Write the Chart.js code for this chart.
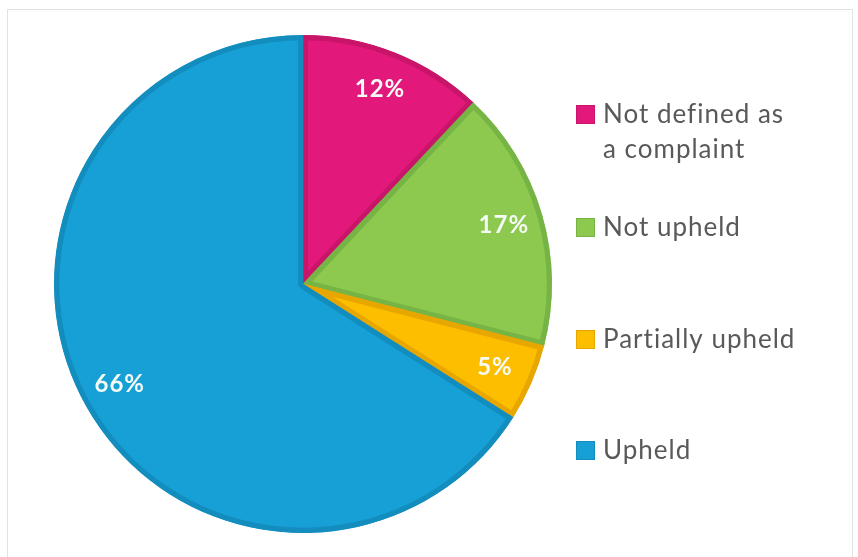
<!DOCTYPE html>
<html>
<head>
<meta charset="utf-8">
<script src="https://cdn.jsdelivr.net/npm/chart.js@4.4.1/dist/chart.umd.min.js"></script>
<style>
html,body{margin:0;padding:0;background:#fff;}
#wrap{position:relative;width:858px;height:557px;}
</style>
</head>
<body>
<div id="wrap"><canvas id="c" width="858" height="557"></canvas></div>
<script>
const categories = [['Not defined as', 'a complaint'], 'Not upheld', 'Partially upheld', 'Upheld'];
const shares = [12, 17, 5, 66];
const shareLabels = ['12%', '17%', '5%', '66%'];
const fillColors = ['#E2197A', '#8DC94E', '#FDBE00', '#16A0D5'];
const edgeColors = ['#C8156A', '#76B445', '#E8A600', '#138CBE'];

const framePlugin = {
  id: 'frame',
  beforeDraw(chart) {
    const ctx = chart.ctx;
    ctx.save();
    ctx.fillStyle = '#ffffff';
    ctx.fillRect(0, 0, chart.width, chart.height);
    ctx.strokeStyle = '#e2e2e2';
    ctx.lineWidth = 1;
    ctx.beginPath();
    ctx.moveTo(7.5, 600);
    ctx.lineTo(7.5, 9.5);
    ctx.lineTo(852.5, 9.5);
    ctx.lineTo(852.5, 600);
    ctx.stroke();
    ctx.restore();
  }
};

const labelPlugin = {
  id: 'sliceLabels',
  afterDatasetsDraw(chart) {
    const ctx = chart.ctx;
    const meta = chart.getDatasetMeta(0);
    ctx.save();
    ctx.font = 'bold 24px Lato';
    ctx.letterSpacing = '1px';
    ctx.fillStyle = '#f4fbf6';
    ctx.textAlign = 'center';
    ctx.textBaseline = 'middle';
    meta.data.forEach((arc, i) => {
      const p = arc.getProps(['x', 'y', 'startAngle', 'endAngle', 'outerRadius'], true);
      const mid = (p.startAngle + p.endAngle) / 2;
      const r = p.outerRadius * 0.84;
      ctx.fillText(shareLabels[i], p.x + Math.cos(mid) * r, p.y + Math.sin(mid) * r);
    });
    ctx.restore();
  }
};

const legendPlugin = {
  id: 'sideLegend',
  afterDraw(chart) {
    const ctx = chart.ctx;
    const baselines = [123, 236, 348, 459];
    ctx.save();
    ctx.font = '26px Lato';
    ctx.letterSpacing = '1px';
    ctx.textBaseline = 'alphabetic';
    ctx.textAlign = 'left';
    chart.data.labels.forEach((lab, i) => {
      const b = baselines[i];
      ctx.fillStyle = fillColors[i];
      ctx.fillRect(576, b - 18, 19, 19);
      ctx.strokeStyle = edgeColors[i];
      ctx.lineWidth = 1;
      ctx.strokeRect(576.5, b - 17.5, 18, 18);
      ctx.fillStyle = '#595959';
      const lines = Array.isArray(lab) ? lab : [lab];
      lines.forEach((t, k) => ctx.fillText(t, 603, b + k * 35));
    });
    ctx.restore();
  }
};

new Chart(document.getElementById('c'), {
  type: 'pie',
  data: {
    labels: categories,
    datasets: [{
      data: shares,
      backgroundColor: fillColors,
      borderColor: edgeColors,
      borderWidth: 5,
      borderAlign: 'inner'
    }]
  },
  options: {
    responsive: false,
    animation: false,
    radius: 249,
    layout: { padding: { left: 54, right: 306, top: 35, bottom: 24 } },
    plugins: { legend: { display: false }, tooltip: { enabled: false } }
  },
  plugins: [framePlugin, labelPlugin, legendPlugin]
});
</script>
</body>
</html>
